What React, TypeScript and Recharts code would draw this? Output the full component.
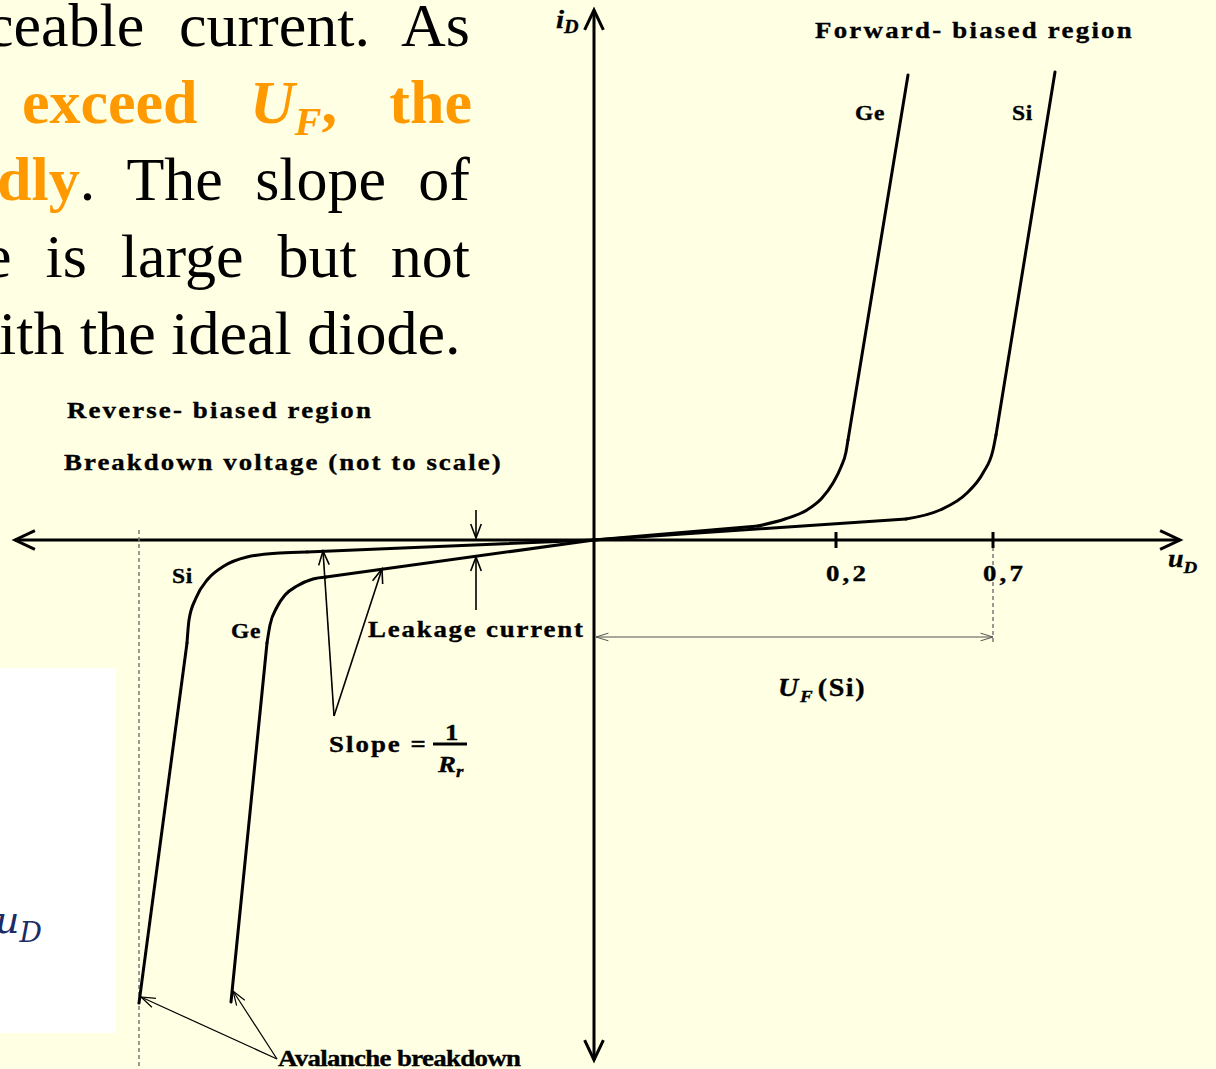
import React from 'react';
import { LineChart, Line, XAxis, YAxis, ReferenceLine, ReferenceDot } from 'recharts';

const W = 1216;
const H = 1069;
const BG = '#FFFFE3';
const SERIF = '"Liberation Serif", "Times New Roman", serif';
const STRETCH = 1.12;

// Diode I-V characteristic, chart units (voltage and current are not to scale)
const geForwardLeak = [{ x: 0, y: 0 }, { x: 1.64, y: 0.14 }];
const geForwardKnee = [
  { x: 1.64, y: 0.14 }, { x: 1.91, y: 0.21 }, { x: 2.13, y: 0.3 }, { x: 2.28, y: 0.42 },
  { x: 2.39, y: 0.57 }, { x: 2.47, y: 0.73 }, { x: 2.52, y: 0.88 }, { x: 2.54, y: 1.0 },
];
const geForwardRise = [{ x: 2.54, y: 1.0 }, { x: 3.14, y: 4.65 }];

const siForwardLeak = [{ x: 0, y: 0 }, { x: 3.12, y: 0.21 }];
const siForwardKnee = [
  { x: 3.12, y: 0.21 }, { x: 3.46, y: 0.3 }, { x: 3.73, y: 0.47 }, { x: 3.89, y: 0.67 },
  { x: 3.99, y: 0.9 }, { x: 4.02, y: 1.05 },
];
const siForwardRise = [{ x: 4.02, y: 1.05 }, { x: 4.61, y: 4.68 }];

const siReverseLeak = [{ x: -2.87, y: -0.12 }, { x: 0, y: 0 }];
const siReverseKnee = [
  { x: -4.07, y: -1.03 }, { x: -4.05, y: -0.8 }, { x: -3.98, y: -0.58 }, { x: -3.86, y: -0.39 },
  { x: -3.7, y: -0.26 }, { x: -3.47, y: -0.17 }, { x: -3.14, y: -0.13 }, { x: -2.87, y: -0.12 },
];
const siReverseBreak = [{ x: -4.55, y: -4.63 }, { x: -4.07, y: -1.03 }];

const geReverseLeak = [{ x: -2.68, y: -0.37 }, { x: 0, y: 0 }];
const geReverseKnee = [
  { x: -3.27, y: -1.03 }, { x: -3.24, y: -0.85 }, { x: -3.17, y: -0.67 }, { x: -3.09, y: -0.55 },
  { x: -2.97, y: -0.46 }, { x: -2.81, y: -0.39 }, { x: -2.68, y: -0.37 },
];
const geReverseBreak = [{ x: -3.63, y: -4.62 }, { x: -3.27, y: -1.03 }];

// Tick marks on the voltage axis
const tickValues = [2.42, 3.99];
const tickLabels = ['0,2', '0,7'];

// Plain bold annotations: anchor point (chart units) and text
type Note = { x: number; y: number; text: string; size?: number; spacing?: number };
const notes: Note[] = [
  { x: 2.21, y: 5.02, text: 'Forward- biased region', spacing: 2.0 },
  { x: 2.61, y: 4.2, text: 'Ge', size: 21, spacing: 0.6 },
  { x: 4.18, y: 4.2, text: 'Si', size: 21, spacing: 0.6 },
  { x: -5.27, y: 1.22, text: 'Reverse- biased region', spacing: 1.9 },
  { x: -5.3, y: 0.7, text: 'Breakdown voltage (not to scale)', spacing: 1.8 },
  { x: -4.22, y: -0.43, text: 'Si', size: 21, spacing: 0.6 },
  { x: -3.63, y: -0.98, text: 'Ge', size: 21, spacing: 0.6 },
  { x: -2.26, y: -0.97, text: 'Leakage current', spacing: 1.6 },
  { x: -3.16, y: -5.26, text: 'Avalanche breakdown', spacing: -0.6 },
];

function chevron(tx: number, ty: number, fx: number, fy: number, len: number, spread: number) {
  const ang = Math.atan2(fy - ty, fx - tx);
  const ax = tx + len * Math.cos(ang - spread);
  const ay = ty + len * Math.sin(ang - spread);
  const bx = tx + len * Math.cos(ang + spread);
  const by = ty + len * Math.sin(ang + spread);
  return `M${ax},${ay}L${tx},${ty}L${bx},${by}`;
}

type ArrowStyle = {
  stroke: string; width: number; head?: number; spread?: number;
  start?: boolean; end?: boolean; dash?: string;
};

const arrowShape = (s: ArrowStyle) => (p: any) => {
  const { x1, y1, x2, y2 } = p;
  const head = s.head ?? 14;
  const spread = s.spread ?? 0.38;
  return (
    <g>
      <line x1={x1} y1={y1} x2={x2} y2={y2} stroke={s.stroke} strokeWidth={s.width} strokeDasharray={s.dash} />
      {s.start && (
        <path d={chevron(x1, y1, x2, y2, head, spread)} fill="none" stroke={s.stroke} strokeWidth={s.width} />
      )}
      {s.end && (
        <path d={chevron(x2, y2, x1, y1, head, spread)} fill="none" stroke={s.stroke} strokeWidth={s.width} />
      )}
    </g>
  );
};

const axisArrow = arrowShape({ stroke: '#000', width: 3, head: 22, spread: 0.44, start: true, end: true });
const thinArrow = arrowShape({ stroke: '#000', width: 1.2, head: 15, spread: 0.33, end: true });
const leakArrow = arrowShape({ stroke: '#000', width: 1.6, head: 15, spread: 0.36, end: true });
const dimArrow = arrowShape({ stroke: '#555', width: 1, head: 13, spread: 0.3, start: true, end: true });
const dashed = arrowShape({ stroke: '#7a7a7a', width: 1.5, dash: '4 3' });
const tickMark = arrowShape({ stroke: '#000', width: 3 });

// Bold label text, slightly widened like the slide's typeface
const Bold = (props: { cx: number; cy: number; size?: number; spacing?: number; italic?: boolean; children: React.ReactNode }) => (
  <text
    transform={`translate(${props.cx},${props.cy}) scale(${STRETCH},1)`}
    x={0}
    y={0}
    fontFamily={SERIF}
    fontWeight="bold"
    fontStyle={props.italic ? 'italic' : 'normal'}
    fontSize={props.size ?? 24}
    letterSpacing={props.spacing ?? 1.8}
    fill="#000"
    stroke="#000"
    strokeWidth={0.35}
  >
    {props.children}
  </text>
);

const noteShape = (n: Note) => (p: any) => (
  <Bold cx={p.cx} cy={p.cy} size={n.size} spacing={n.spacing}>
    {n.text}
  </Bold>
);

const tickLabelShape = (label: string) => (p: any) => (
  <Bold cx={p.cx} cy={p.cy} spacing={2.8}>
    {label}
  </Bold>
);

const currentLabel = (p: any) => (
  <Bold cx={p.cx} cy={p.cy} size={26} spacing={0} italic>
    i<tspan fontSize={18} dy={5}>D</tspan>
  </Bold>
);

const voltageLabel = (p: any) => (
  <Bold cx={p.cx} cy={p.cy} size={25} spacing={0} italic>
    u<tspan fontSize={17} dy={6}>D</tspan>
  </Bold>
);

const forwardVoltageLabel = (p: any) => (
  <Bold cx={p.cx} cy={p.cy} size={25} spacing={1.5}>
    <tspan fontStyle="italic">U</tspan>
    <tspan fontStyle="italic" fontSize={17} dy={6}>F</tspan>
    <tspan dy={-6} dx={3}>(Si)</tspan>
  </Bold>
);

const slopeLabel = (p: any) => (
  <g>
    <Bold cx={p.cx} cy={p.cy} spacing={1.8}>Slope =</Bold>
    <line x1={p.cx + 104} y1={p.cy - 8} x2={p.cx + 138} y2={p.cy - 8} stroke="#000" strokeWidth={2.8} />
    <Bold cx={p.cx + 116} cy={p.cy - 12} spacing={0}>1</Bold>
    <Bold cx={p.cx + 109} cy={p.cy + 20} spacing={0} italic>
      R<tspan fontSize={17} dy={5}>r</tspan>
    </Bold>
  </g>
);

const curve = (data: { x: number; y: number }[], kind: 'linear' | 'monotone', key: string) => (
  <Line
    key={key}
    data={data}
    dataKey="y"
    type={kind}
    stroke="#000"
    strokeWidth={3}
    strokeLinecap="round"
    dot={false}
    activeDot={false}
    isAnimationActive={false}
  />
);

const lineStyle: React.CSSProperties = {
  position: 'absolute',
  fontFamily: SERIF,
  fontSize: 62,
  lineHeight: '62px',
  height: 62,
  textAlign: 'justify',
  textAlignLast: 'justify',
  color: '#000',
};
const orange: React.CSSProperties = { color: '#FF9900', fontWeight: 'bold' };

export default function App() {
  return (
    <div style={{ position: 'absolute', left: 0, top: 0, width: W, height: H, background: BG, overflow: 'hidden' }}>
      {/* Slide paragraph beside the diagram */}
      <div style={{ ...lineStyle, left: -14, top: -6, width: 484 }}>ceable current. As</div>
      <div style={{ ...lineStyle, left: 22, top: 71, width: 450, ...orange }}>
        exceed{' '}
        <i>
          U<sub style={{ fontSize: 40, verticalAlign: '-0.3em' }}>F</sub>
        </i>
        , the
      </div>
      <div style={{ ...lineStyle, left: -3, top: 148, width: 473 }}>
        <span style={orange}>dly</span>. The slope of
      </div>
      <div style={{ ...lineStyle, left: -16, top: 225, width: 486 }}>e is large but not</div>
      <div style={{ ...lineStyle, left: -1, top: 302, textAlign: 'left', textAlignLast: 'left', whiteSpace: 'nowrap' }}>
        ith the ideal diode.
      </div>

      {/* Inset panel */}
      <div style={{ position: 'absolute', left: 0, top: 668, width: 116, height: 365, background: '#FFFFFF' }}>
        <div
          style={{
            position: 'absolute',
            left: -5,
            top: 232,
            fontFamily: '"DejaVu Serif", serif',
            fontStyle: 'italic',
            fontSize: 38,
            lineHeight: '40px',
            color: '#1c2c66',
            whiteSpace: 'nowrap',
          }}
        >
          u<span style={{ fontSize: 28, position: 'relative', top: 9 }}>D</span>
        </div>
      </div>

      <LineChart width={W} height={H} margin={{ top: 0, right: 0, bottom: 0, left: 0 }} style={{ position: 'absolute', left: 0, top: 0 }}>
        <XAxis dataKey="x" type="number" domain={[-5.94, 6.22]} allowDataOverflow hide />
        <YAxis type="number" domain={[-5.29, 5.4]} allowDataOverflow hide />

        {/* Axes */}
        <ReferenceLine ifOverflow="visible" segment={[{ x: -5.79, y: 0 }, { x: 5.86, y: 0 }]} shape={axisArrow} />
        <ReferenceLine ifOverflow="visible" segment={[{ x: 0, y: -5.2 }, { x: 0, y: 5.3 }]} shape={axisArrow} />

        {/* Guides */}
        <ReferenceLine ifOverflow="visible" segment={[{ x: -4.55, y: 0.1 }, { x: -4.55, y: -5.29 }]} shape={dashed} />
        <ReferenceLine ifOverflow="visible" segment={[{ x: 3.99, y: 0 }, { x: 3.99, y: -1.02 }]} shape={dashed} />
        <ReferenceLine ifOverflow="visible" segment={[{ x: 0.02, y: -0.97 }, { x: 3.99, y: -0.97 }]} shape={dimArrow} />

        {tickValues.map((v) => (
          <ReferenceLine key={`t${v}`} ifOverflow="visible" segment={[{ x: v, y: 0.08 }, { x: v, y: -0.08 }]} shape={tickMark} />
        ))}

        {/* Characteristic curves */}
        {curve(geForwardLeak, 'linear', 'gfl')}
        {curve(geForwardKnee, 'monotone', 'gfk')}
        {curve(geForwardRise, 'linear', 'gfr')}
        {curve(siForwardLeak, 'linear', 'sfl')}
        {curve(siForwardKnee, 'monotone', 'sfk')}
        {curve(siForwardRise, 'linear', 'sfr')}
        {curve(siReverseLeak, 'linear', 'srl')}
        {curve(siReverseKnee, 'monotone', 'srk')}
        {curve(siReverseBreak, 'linear', 'srb')}
        {curve(geReverseLeak, 'linear', 'grl')}
        {curve(geReverseKnee, 'monotone', 'grk')}
        {curve(geReverseBreak, 'linear', 'grb')}

        {/* Pointers */}
        <ReferenceLine ifOverflow="visible" segment={[{ x: -1.18, y: 0.3 }, { x: -1.18, y: 0.02 }]} shape={leakArrow} />
        <ReferenceLine ifOverflow="visible" segment={[{ x: -1.18, y: -0.7 }, { x: -1.18, y: -0.17 }]} shape={leakArrow} />
        <ReferenceLine ifOverflow="visible" segment={[{ x: -2.6, y: -1.76 }, { x: -2.71, y: -0.11 }]} shape={leakArrow} />
        <ReferenceLine ifOverflow="visible" segment={[{ x: -2.6, y: -1.76 }, { x: -2.12, y: -0.29 }]} shape={leakArrow} />
        <ReferenceLine ifOverflow="visible" segment={[{ x: -3.17, y: -5.19 }, { x: -4.53, y: -4.57 }]} shape={thinArrow} />
        <ReferenceLine ifOverflow="visible" segment={[{ x: -3.17, y: -5.19 }, { x: -3.61, y: -4.51 }]} shape={thinArrow} />

        {/* Labels */}
        {notes.map((n, i) => (
          <ReferenceDot key={`n${i}`} ifOverflow="visible" x={n.x} y={n.y} r={0} shape={noteShape(n)} />
        ))}
        {tickValues.map((v, i) => (
          <ReferenceDot key={`l${v}`} ifOverflow="visible" x={v - 0.1} y={-0.41} r={0} shape={tickLabelShape(tickLabels[i])} />
        ))}
        <ReferenceDot ifOverflow="visible" x={-0.38} y={5.12} r={0} shape={currentLabel} />
        <ReferenceDot ifOverflow="visible" x={5.74} y={-0.27} r={0} shape={voltageLabel} />
        <ReferenceDot ifOverflow="visible" x={1.84} y={-1.56} r={0} shape={forwardVoltageLabel} />
        <ReferenceDot ifOverflow="visible" x={-2.65} y={-2.12} r={0} shape={slopeLabel} />
      </LineChart>
    </div>
  );
}
